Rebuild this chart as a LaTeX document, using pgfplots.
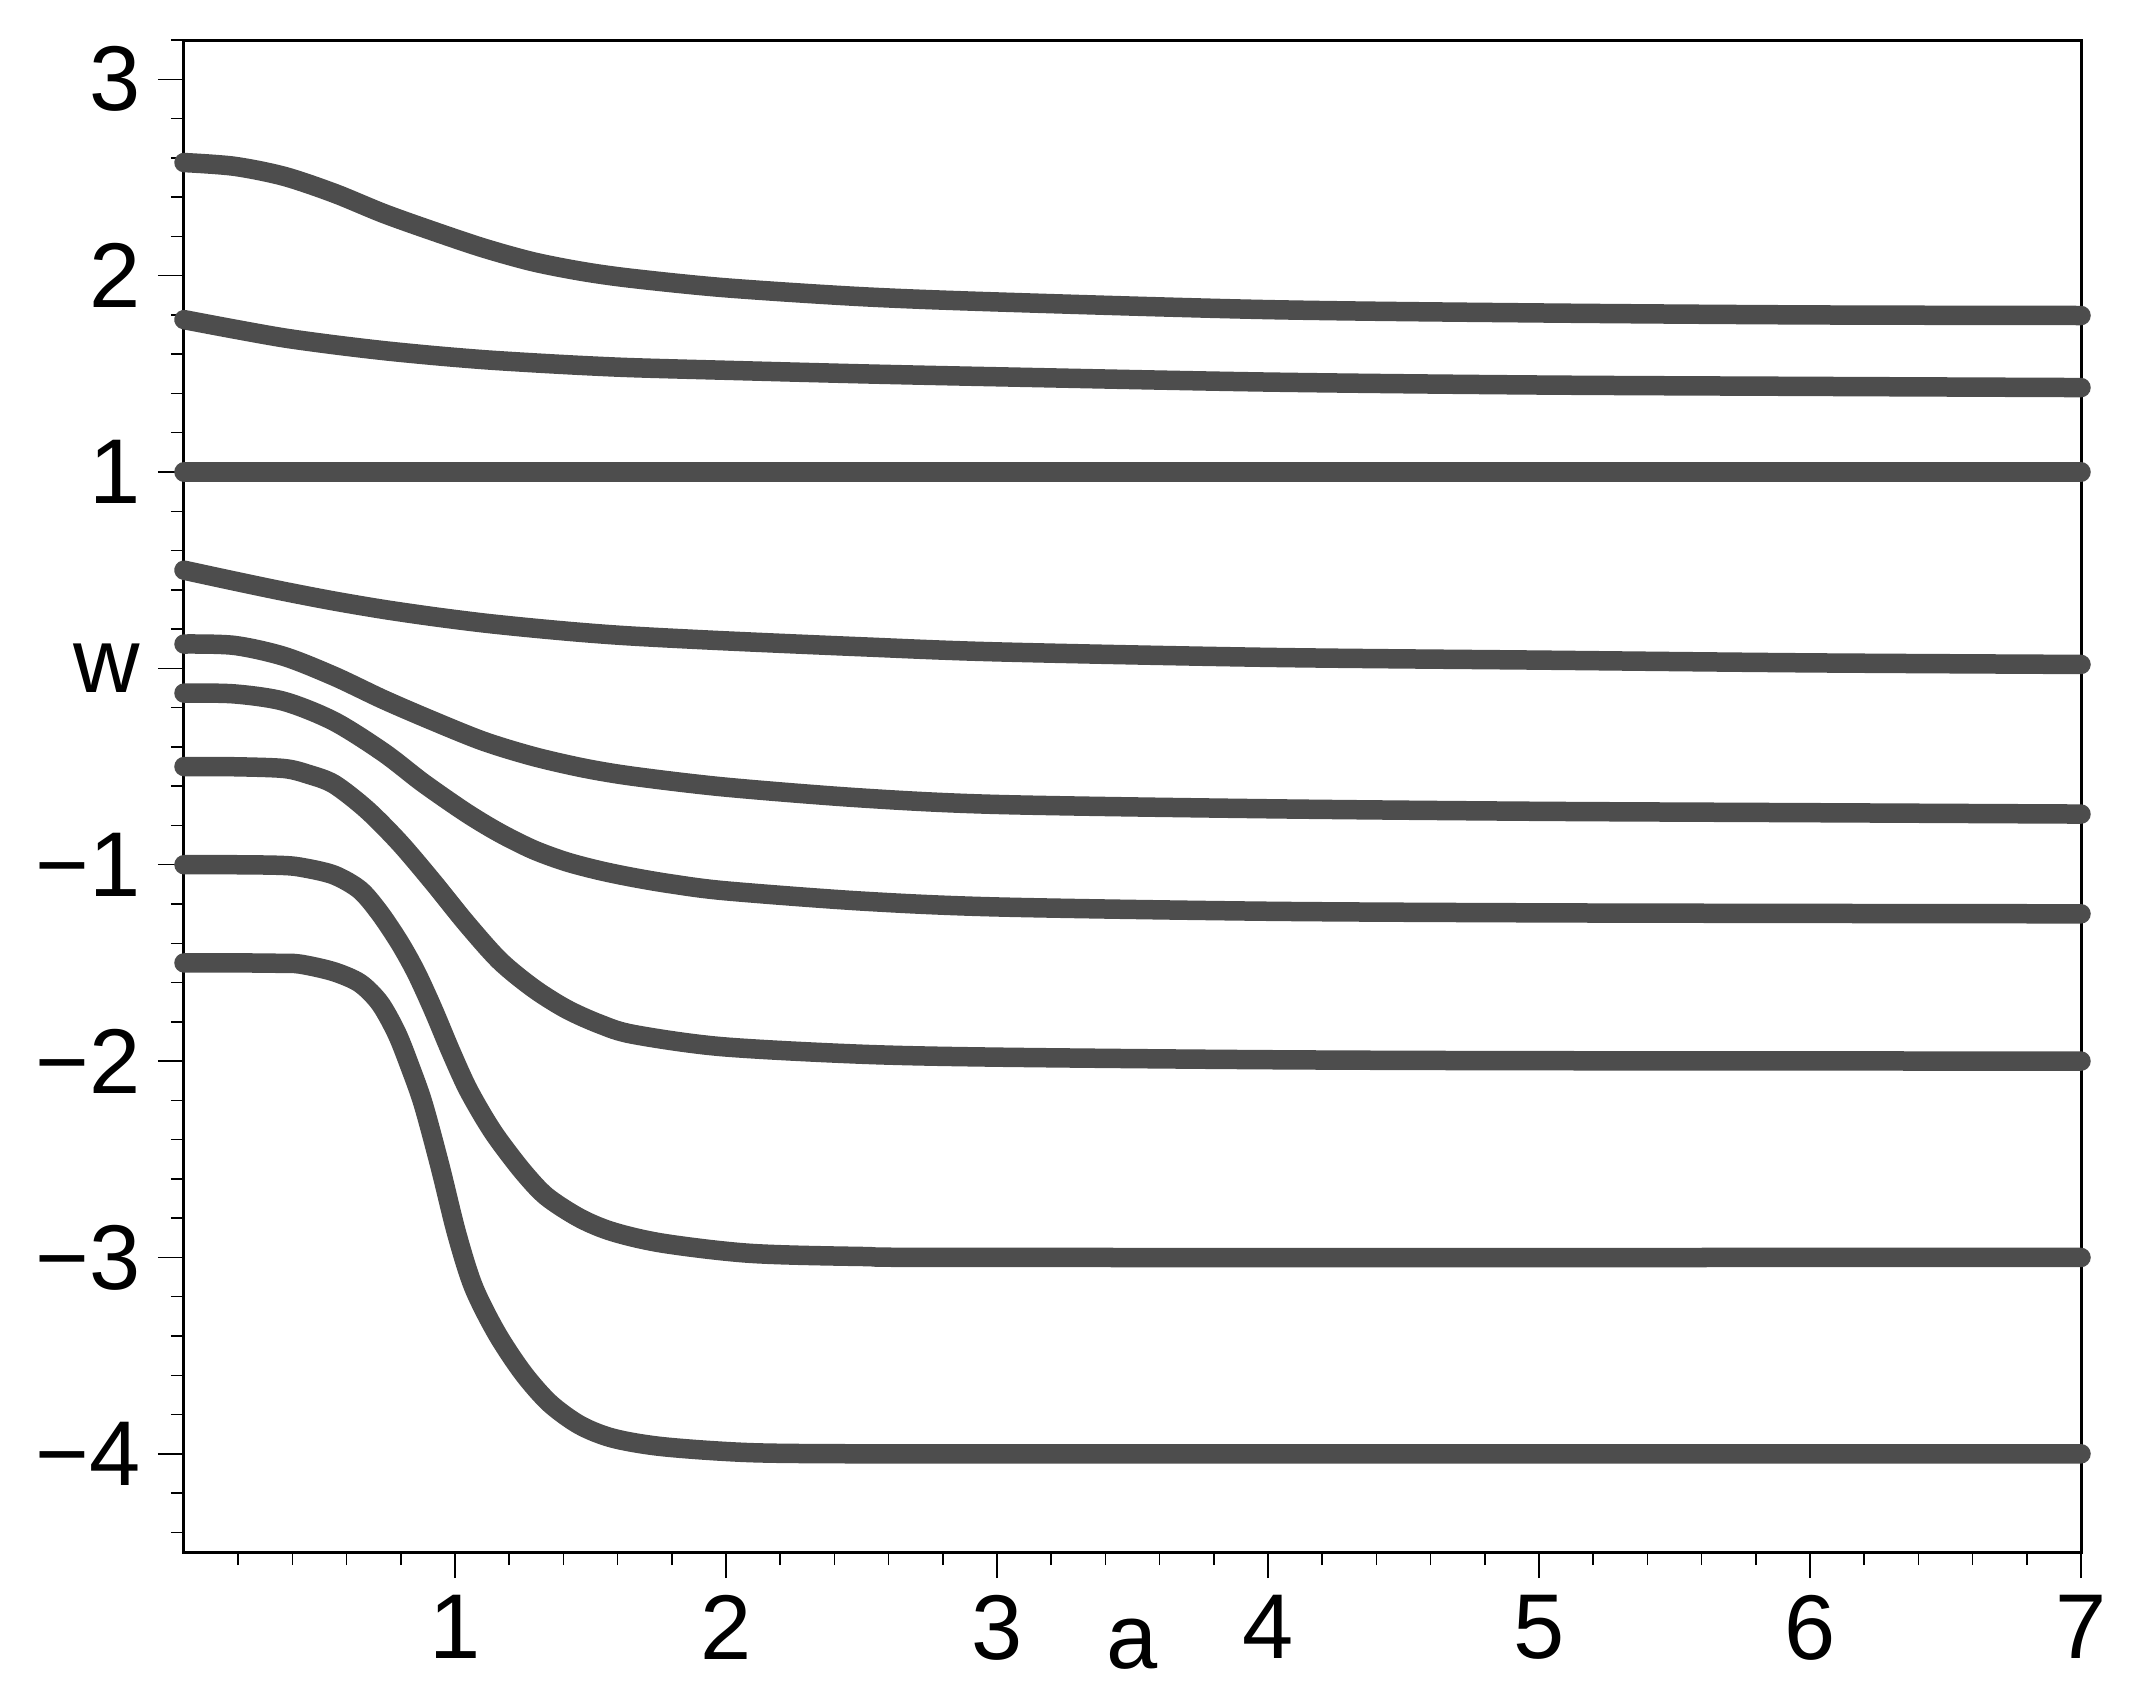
\documentclass[border=0pt]{standalone}
\usepackage{fontspec}
\setmainfont{Liberation Sans}
\usepackage{pgfplots}
\pgfplotsset{compat=1.18}
\definecolor{cv}{HTML}{4D4D4D}
\begin{document}
\begin{tikzpicture}[x=1pt,y=1pt]
\path[use as bounding box] (0,0) rectangle (427,339.2);
\begin{axis}[
  at={(36.8pt,28.8pt)}, anchor=south west,
  scale only axis, width=379.4pt, height=302.4pt,
  xmin=0, xmax=7, ymin=-4.5, ymax=3.2,
  axis line style={line width=0.6pt},
  tick align=outside, xtick pos=bottom, ytick pos=left,
  xtick={1,2,3,4,5,6,7}, xticklabels={1,2,3,4,5,6,7},
  ytick={-4,-3,-2,-1,0,1,2,3}, yticklabels={−4,−3,−2,−1,,1,2,3},
  minor xtick={0.2,0.4,0.6,0.8,1.2,1.4,1.6,1.8,2.2,2.4,2.6,2.8,3.2,3.4,3.6,3.8,4.2,4.4,4.6,4.8,5.2,5.4,5.6,5.8,6.2,6.4,6.6,6.8},
  minor ytick={-4.4,-4.2,-3.8,-3.6,-3.4,-3.2,-2.8,-2.6,-2.4,-2.2,-1.8,-1.6,-1.4,-1.2,-0.8,-0.6,-0.4,-0.2,0.2,0.4,0.6,0.8,1.2,1.4,1.6,1.8,2.2,2.4,2.6,2.8,3.2},
  major tick length=5.2pt, minor tick length=2.6pt,
  every tick/.style={black, line width=0.3pt},
  ticklabel style={font=\fontsize{18.4}{20}\selectfont},
  clip=false,
  crv/.style={cv, no markers, line width=3.9pt, line cap=round, line join=round, smooth},
]
% curve 1
\addplot[crv] coordinates {(0,2.576)(0.185,2.557)(0.369,2.506)(0.554,2.42)(0.738,2.316)(0.923,2.225)(1.107,2.14)(1.29,2.07)(1.476,2.02)(1.66,1.985)(2,1.938)(2.5,1.893)(3,1.866)(4,1.827)(5,1.81)(6,1.80)(7,1.797)};
% curve 2
\addplot[crv] coordinates {(0,1.776)(0.185,1.728)(0.369,1.683)(0.554,1.648)(0.738,1.618)(0.923,1.593)(1.107,1.572)(1.29,1.556)(1.476,1.542)(1.66,1.531)(2,1.518)(2.5,1.50)(3,1.485)(4,1.458)(5,1.443)(6,1.436)(7,1.43)};
% curve 3
\addplot[crv] coordinates {(0,1)(7,1)};
% curve 4
\addplot[crv] coordinates {(0,0.5)(0.185,0.445)(0.369,0.392)(0.554,0.343)(0.738,0.30)(0.923,0.263)(1.107,0.231)(1.29,0.205)(1.476,0.182)(1.66,0.164)(2,0.14)(2.5,0.11)(3,0.084)(4,0.056)(5,0.042)(6,0.028)(7,0.02)};
% curve 5
\addplot[crv] coordinates {(0,0.124)(0.185,0.117)(0.369,0.061)(0.554,-0.04)(0.738,-0.16)(0.923,-0.27)(1.107,-0.372)(1.29,-0.449)(1.476,-0.508)(1.66,-0.55)(2,-0.605)(2.5,-0.66)(3,-0.693)(4,-0.715)(5,-0.728)(6,-0.735)(7,-0.742)};
% curve 6
\addplot[crv] coordinates {(0,-0.126)(0.185,-0.13)(0.369,-0.168)(0.554,-0.27)(0.738,-0.43)(0.883,-0.584)(1.043,-0.737)(1.166,-0.839)(1.29,-0.924)(1.411,-0.985)(1.535,-1.03)(1.658,-1.065)(1.8,-1.098)(2,-1.133)(2.5,-1.185)(3,-1.215)(4,-1.237)(5,-1.245)(6,-1.248)(7,-1.25)};
% curve 7
\addplot[crv] coordinates {(0,-0.5)(0.185,-0.501)(0.369,-0.51)(0.46,-0.54)(0.554,-0.59)(0.675,-0.72)(0.797,-0.89)(0.92,-1.09)(1.043,-1.30)(1.166,-1.49)(1.29,-1.63)(1.411,-1.735)(1.535,-1.812)(1.658,-1.864)(1.98,-1.926)(2.5,-1.965)(3,-1.98)(4,-1.993)(5,-1.998)(7,-2.0)};
% curve 8
\addplot[crv] coordinates {(0,-1.0)(0.185,-1.0)(0.35,-1.003)(0.428,-1.012)(0.551,-1.051)(0.649,-1.128)(0.723,-1.247)(0.797,-1.40)(0.858,-1.552)(0.92,-1.739)(0.982,-1.943)(1.043,-2.13)(1.105,-2.283)(1.16,-2.40)(1.252,-2.565)(1.338,-2.69)(1.461,-2.80)(1.584,-2.87)(1.769,-2.928)(2.089,-2.979)(2.5,-2.995)(3,-3.0)(7,-3.0)};
% curve 9
\addplot[crv] coordinates {(0,-1.5)(0.2,-1.5)(0.35,-1.502)(0.428,-1.506)(0.551,-1.544)(0.649,-1.603)(0.723,-1.705)(0.785,-1.858)(0.834,-2.028)(0.883,-2.22)(0.945,-2.537)(1.006,-2.877)(1.068,-3.149)(1.154,-3.386)(1.252,-3.59)(1.35,-3.743)(1.461,-3.854)(1.584,-3.921)(1.769,-3.964)(2.089,-3.994)(2.5,-4.0)(3,-4.0)(7,-4.0)};
\node[font=\fontsize{18.4}{20}\selectfont] at (axis cs:-0.284,0) {w};
\node[font=\fontsize{18.4}{20}\selectfont] at (axis cs:3.5,-4.97) {a};
\end{axis}
\end{tikzpicture}
\end{document}
